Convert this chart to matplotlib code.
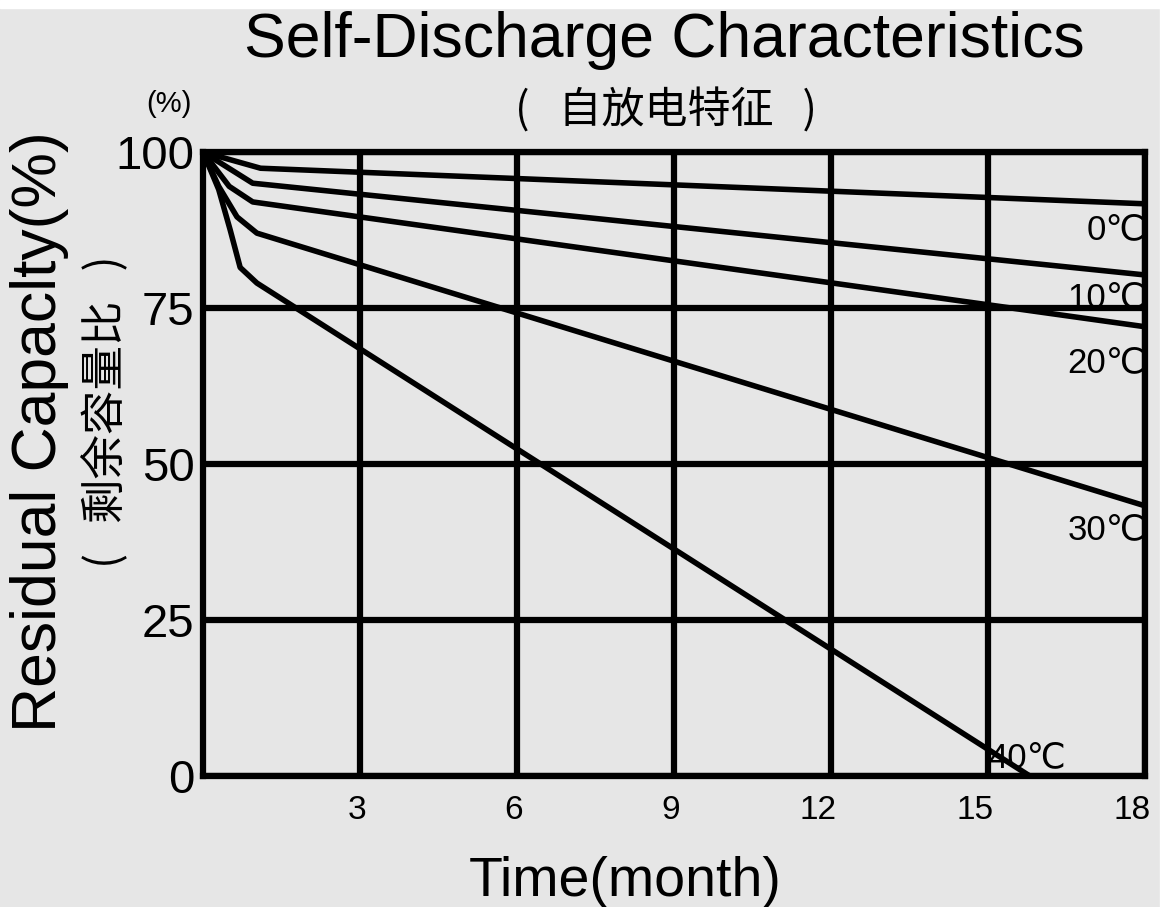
import matplotlib
matplotlib.use('Agg')
import matplotlib.pyplot as plt
import matplotlib.transforms as mtransforms
from matplotlib.patches import Rectangle

# Curve data (month, residual capacity %)
months_0c = [0, 1.1, 18]
cap_0c = [100, 97.4, 91.7]
months_10c = [0, 0.95, 18]
cap_10c = [100, 95.0, 80.3]
months_20c = [0, 0.5, 0.95, 18]
cap_20c = [100, 94.5, 92.0, 72.0]
months_30c = [0, 0.3, 0.65, 1.03, 18]
cap_30c = [100, 94.5, 89.6, 87.0, 43.3]
months_40c = [0, 0.3, 0.52, 0.71, 1.03, 15.8]
cap_40c = [100, 94.0, 87.5, 81.5, 79.0, 0]

curves = [(months_0c, cap_0c), (months_10c, cap_10c), (months_20c, cap_20c),
          (months_30c, cap_30c), (months_40c, cap_40c)]

temp_labels = ['0℃', '10℃', '20℃', '30℃', '40℃']
label_pos = [(18, 87.5), (18, 76.7), (18, 66.3), (18, 39.5), (15.0, 3.0)]

x_ticks = [3, 6, 9, 12, 15, 18]
y_ticks = [0, 25, 50, 75, 100]

latin = ['Liberation Sans', 'DejaVu Sans']
cjk = ['Noto Sans CJK SC', 'DejaVu Sans']
plt.rcParams['font.family'] = latin

bg = '#e6e6e6'
fig = plt.figure(figsize=(11.68, 9.07), dpi=100, facecolor=bg)
# thin white strips at top / right edge of the scan
fig.patches.append(Rectangle((0, 0.991), 1, 0.009, transform=fig.transFigure,
                             color='white', zorder=0))
fig.patches.append(Rectangle((0.9935, 0), 0.0065, 1, transform=fig.transFigure,
                             color='white', zorder=0))

ax = fig.add_axes([0.1738, 0.1444, 0.8065, 0.688])
ax.set_facecolor(bg)

for m, c in curves:
    ax.plot(m, c, color='black', linewidth=4.0, solid_joinstyle='round',
            solid_capstyle='butt', zorder=3, clip_on=False)

for t, (x, y) in zip(temp_labels, label_pos):
    ha = 'right' if x == 18 else 'left'
    ax.text(x, y, t, fontsize=25, ha=ha, va='center', family=latin, zorder=4)

ax.set_xlim(0, 18)
ax.set_ylim(0, 100)
ax.set_xticks(x_ticks)
ax.set_yticks(y_ticks)
ax.grid(True, color='black', linewidth=4.5)
ax.set_axisbelow(True)
for s in ax.spines.values():
    s.set_linewidth(4.5)
ax.tick_params(length=0)
ax.tick_params(axis='x', labelsize=24, pad=14)
ax.tick_params(axis='y', labelsize=34, pad=6)

# x tick labels sit right-aligned just past their gridline
shift = mtransforms.ScaledTranslation(6 / 100, 0, fig.dpi_scale_trans)
for lab in ax.get_xticklabels():
    lab.set_horizontalalignment('right')
    lab.set_transform(lab.get_transform() + shift)

# titles
fig.text(0.569, 0.955, 'Self-Discharge Characteristics', fontsize=45,
         ha='center', va='center', family=latin)
fig.text(0.57, 0.878, '(   自放电特征   )', fontsize=31,
         ha='center', va='center', family=cjk)
fig.text(0.145, 0.885, '(%)', fontsize=21, ha='center', va='center', family=latin)

# axis labels
fig.text(0.034, 0.524, 'Residual Capaclty(%)', fontsize=45, rotation=90,
         ha='center', va='center', family=latin)
fig.text(0.090, 0.546, '(   剩余容量比   )', fontsize=32, rotation=90,
         ha='center', va='center', family=cjk)
fig.text(0.535, 0.028, 'Time(month)', fontsize=40, ha='center', va='center',
         family=latin)

fig.savefig('out.png', dpi=100, facecolor=bg)
